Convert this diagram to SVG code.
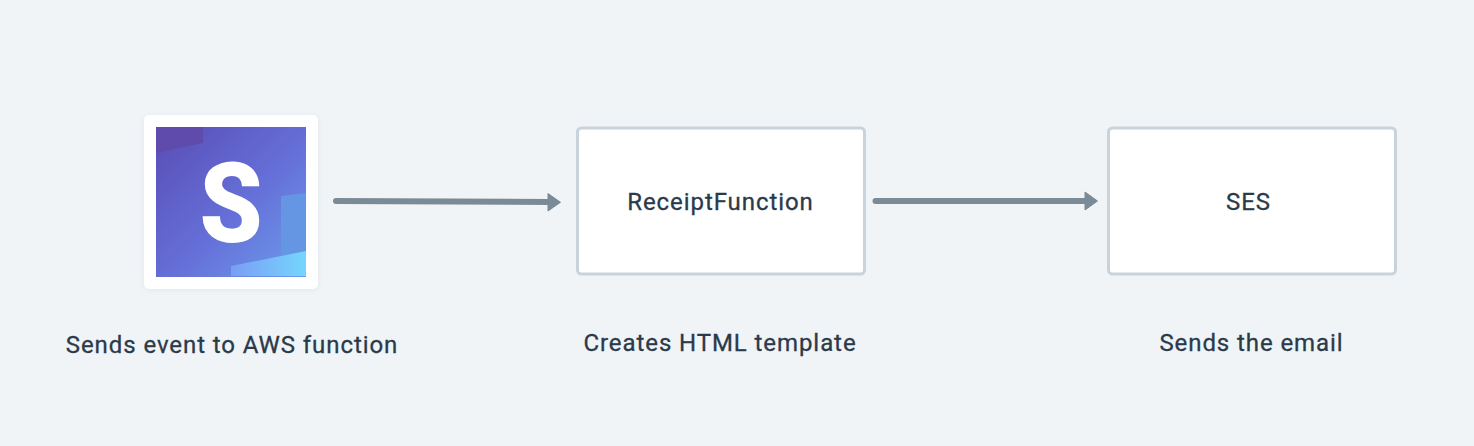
<svg xmlns="http://www.w3.org/2000/svg" width="1474" height="446" viewBox="0 0 1474 446">
<style>
.lbl{font-family:Roboto,"Noto Sans","Liberation Sans",sans-serif;font-weight:400;font-size:24px;fill:#2b3a4a;stroke:#2b3a4a;stroke-width:.3px;text-anchor:middle;letter-spacing:.92px}
.box{fill:#fff;stroke:#c8d3dc;stroke-width:3}
.conn{fill:none;stroke:#7b8a97;stroke-width:6;stroke-linecap:round}
.head{fill:#7b8a97;stroke:#7b8a97;stroke-width:1;stroke-linejoin:round}
</style>
<defs>
<linearGradient id="g1" x1="0.1" y1="0.1" x2="1" y2="1"><stop offset="0" stop-color="#5b53bb"/><stop offset=".5" stop-color="#6570d8"/><stop offset="1" stop-color="#6d9cec"/></linearGradient>
<linearGradient id="g2" x1="0" y1="0" x2="1" y2="0"><stop offset="0" stop-color="#7a9df5"/><stop offset="1" stop-color="#75d6fc"/></linearGradient>
<filter id="sh" x="-10%" y="-10%" width="120%" height="120%"><feDropShadow dx="0" dy="1" stdDeviation="3" flood-color="#9fb0bf" flood-opacity=".2"/></filter>
</defs>
<rect width="1474" height="446" fill="#f0f4f7"/>
<g id="stripe">
<rect x="144" y="115" width="174" height="174" rx="5" fill="#fff" filter="url(#sh)"/>
<rect x="156" y="127" width="150" height="150" fill="url(#g1)"/>
<path d="M156 127H203V143L156 153Z" fill="#5f4bab"/>
<path d="M281 196L306 193V251L281 256Z" fill="#6496e4"/>
<path d="M231 266L306 251V276H231Z" fill="url(#g2)"/>
<text transform="translate(231 242) scale(.9 1)" font-family="Roboto,'Noto Sans',sans-serif" font-weight="900" font-size="112" fill="#fff" text-anchor="middle">S</text>
<text class="lbl" x="232" y="352.500">Sends event to AWS function</text>
</g>
<g id="receipt">
<rect class="box" x="577.500" y="128" width="287" height="146" rx="4"/>
<text class="lbl" x="720.500" y="210">ReceiptFunction</text>
<text class="lbl" x="720" y="350.500">Creates HTML template</text>
</g>
<g id="ses">
<rect class="box" x="1108.500" y="128" width="287" height="146" rx="4"/>
<text class="lbl" x="1248.500" y="210">SES</text>
<text class="lbl" x="1251.500" y="350.500">Sends the email</text>
</g>
<g id="connectors">
<path class="conn" d="M336 201L550 202"/>
<path class="head" d="M548 193.500L560.500 202.300L548 211Z"/>
<path class="conn" d="M875.500 201H1088"/>
<path class="head" d="M1085 192L1097.500 201L1085 210Z"/>
</g>
</svg>
